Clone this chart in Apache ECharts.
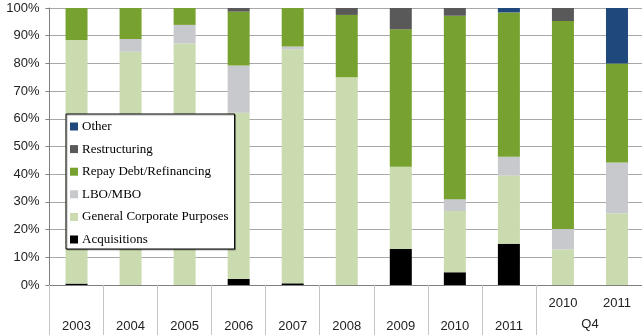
<!DOCTYPE html>
<html>
<head>
<meta charset="utf-8">
<script src="https://cdn.jsdelivr.net/npm/echarts@6/dist/echarts.min.js"></script>
<style>
  html, body { margin: 0; padding: 0; background: #fff; }
  #chart { width: 642px; height: 335px; }
</style>
</head>
<body>
<div id="chart"></div>
<script>
// Use-of-proceeds breakdown, share of total per period (%)
const categories = ['2003', '2004', '2005', '2006', '2007', '2008', '2009', '2010', '2011', '2010 Q4', '2011 Q4'];
const periodLabels = ['2003', '2004', '2005', '2006', '2007', '2008', '2009', '2010', '2011', '2010', '2011'];
const quarterGroupLabel = 'Q4';
const quarterStart = 9;

const acquisitions = [0.5, 0, 0, 2.2, 0.6, 0, 13.0, 4.6, 14.9, 0, 0];
const generalCorporate = [87.9, 84.2, 87.2, 60.0, 84.5, 75.0, 29.7, 22.1, 24.6, 12.9, 25.9];
const lboMbo = [0, 4.6, 6.7, 17.0, 1.0, 0, 0, 4.3, 6.8, 7.3, 18.3];
const repayDebt = [11.6, 11.2, 6.1, 19.5, 13.9, 22.5, 49.6, 66.2, 52.1, 75.1, 35.8];
const restructuring = [0, 0, 0, 1.3, 0, 2.5, 7.7, 2.8, 0, 4.7, 0];
const other = [0, 0, 0, 0, 0, 0, 0, 0, 1.6, 0, 20.0];

const yTicks = { min: 0, max: 100, interval: 10 };

const labelMargin = 7;
const labelLine = 23;

const chart = echarts.init(document.getElementById('chart'), null, { renderer: 'canvas' });

function bar(name, data, color) {
  return {
    name: name,
    type: 'bar',
    stack: 'total',
    data: data,
    barWidth: 22,
    itemStyle: { color: color },
    emphasis: { disabled: true },
    animation: false
  };
}

chart.setOption({
  animation: false,
  grid: { left: 49.5, right: -2, top: 8, bottom: 50, outerBoundsMode: 'none', containLabel: false },
  legend: {
    orient: 'vertical',
    left: 66,
    top: 114,
    padding: [6, 6, 3, 4],
    itemGap: 9.6,
    itemWidth: 8,
    itemHeight: 8,
    icon: 'rect',
    backgroundColor: '#fff',
    borderColor: '#000',
    borderWidth: 1,
    shadowColor: 'rgba(0,0,0,0.3)',
    shadowOffsetX: 1,
    shadowOffsetY: 1,
    shadowBlur: 0,
    textStyle: { fontFamily: 'Liberation Serif', fontSize: 13, color: '#000', padding: [0, 0, 0, -1] },
    data: ['Other', 'Restructuring', 'Repay Debt/Refinancing', 'LBO/MBO', 'General Corporate Purposes', 'Acquisitions'],
    selectedMode: false
  },
  xAxis: {
    type: 'category',
    data: categories,
    axisLine: { lineStyle: { color: '#808080', width: 1 } },
    axisTick: {
      show: true,
      length: 50,
      lineStyle: { color: '#c4c4c4', width: 1 },
      interval: function (index) { return index !== quarterStart + 1; }
    },
    axisLabel: {
      interval: 0,
      margin: labelMargin,
      lineHeight: labelLine,
      fontFamily: 'Liberation Sans',
      fontSize: 13,
      color: '#222',
      formatter: function (value, index) {
        return index >= quarterStart ? periodLabels[index] + '\n ' : ' \n' + periodLabels[index];
      }
    }
  },
  yAxis: {
    type: 'value',
    min: yTicks.min,
    max: yTicks.max,
    interval: yTicks.interval,
    axisLine: { show: true, lineStyle: { color: '#808080', width: 1 } },
    axisTick: { show: true, length: 4, lineStyle: { color: '#808080' } },
    splitLine: { lineStyle: { color: '#a8a8a8', width: 1 } },
    axisLabel: {
      margin: 10,
      fontFamily: 'Liberation Sans',
      fontSize: 13,
      color: '#222',
      formatter: '{value}%'
    }
  },
  series: [
    bar('Acquisitions', acquisitions, '#000000'),
    bar('General Corporate Purposes', generalCorporate, '#cadbb0'),
    bar('LBO/MBO', lboMbo, '#c8c9cc'),
    bar('Repay Debt/Refinancing', repayDebt, '#78a22f'),
    bar('Restructuring', restructuring, '#595959'),
    bar('Other', other, '#1f497d')
  ]
});

// Group caption under the two quarterly columns, on the second label row
const qx = (chart.convertToPixel({ xAxisIndex: 0 }, categories[quarterStart]) +
            chart.convertToPixel({ xAxisIndex: 0 }, categories[quarterStart + 1])) / 2;
const axisY = chart.convertToPixel({ yAxisIndex: 0 }, 0);
chart.setOption({
  graphic: [{
    type: 'text',
    x: qx,
    y: axisY + labelMargin + labelLine * 1.5 - 2,
    style: {
      text: quarterGroupLabel,
      fontFamily: 'Liberation Sans',
      fontSize: 13,
      fill: '#222',
      align: 'center',
      verticalAlign: 'middle'
    }
  }]
});
</script>
</body>
</html>
